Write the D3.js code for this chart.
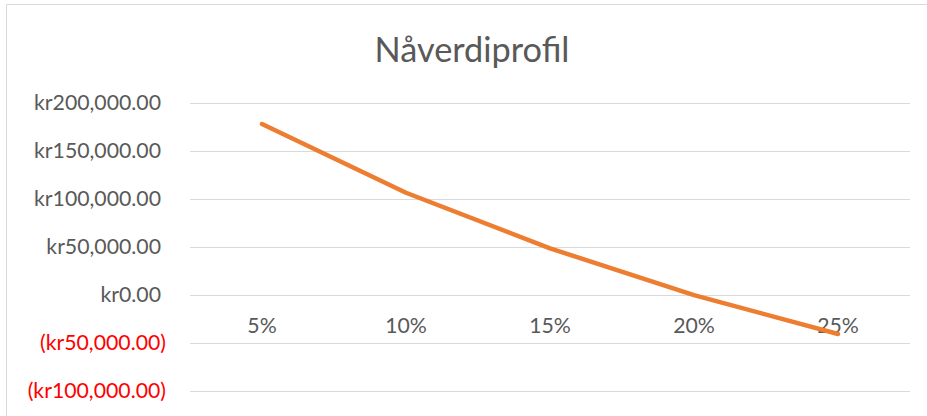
<!DOCTYPE html>
<html><head><meta charset="utf-8">
<script src="https://cdn.jsdelivr.net/npm/d3@7"></script>
<style>body{margin:0;background:#fff}svg{display:block}</style>
</head><body>
<svg id="c" width="927" height="416"></svg>
<script>
const categories = ["5%", "10%", "15%", "20%", "25%"];
const npvValues = [177800, 106200, 48300, -500, -40900];
const yTicks = [200000, 150000, 100000, 50000, 0, -50000, -100000];
const chartTitle = "Nåverdiprofil";

const svg = d3.select("#c");
const font = "Lato, 'Open Sans', sans-serif";
const grey = "#595959";

// chart border (left & top visible)
svg.append("path").attr("d","M6.5,416 V4.5 H927").attr("fill","none").attr("stroke","#d9d9d9").attr("stroke-width",1);

const x = d3.scaleBand().domain(categories).range([190, 910]);
const y = d3.scaleLinear().domain([-100000, 200000]).range([390.7, 102.7]);

const fmt = v => {
  const s = "kr" + d3.format(",.2f")(Math.abs(v));
  return v < 0 ? "(" + s + ")" : s;
};

// gridlines
svg.append("g").selectAll("line").data(yTicks).join("line")
  .attr("x1", 190).attr("x2", 910)
  .attr("y1", d => Math.round(y(d)) + 0.5).attr("y2", d => Math.round(y(d)) + 0.5)
  .attr("stroke", "#d9d9d9").attr("stroke-width", 1);

// y labels
const yl = svg.append("g").selectAll("text").data(yTicks).join("text")
  .attr("x", d => d < 0 ? 166 : 161)
  .attr("y", d => y(d))
  .attr("dy", "0.35em")
  .attr("text-anchor", "end")
  .attr("font-family", font)
  .attr("fill", d => d < 0 ? "#ff0000" : grey)
  .text(fmt);

// x labels
const xl = svg.append("g").selectAll("text").data(categories).join("text")
  .attr("x", d => x(d) + x.bandwidth() / 2)
  .attr("y", 333)
  .attr("text-anchor", "middle")
  .attr("font-family", font)
  .attr("fill", grey)
  .text(d => d);

// size fonts to match reference widths
function fit(sel, sample, target) {
  sel.attr("font-size", 16);
  const node = sel.filter(d => d === sample).node();
  const w = node.getComputedTextLength();
  sel.attr("font-size", 16 * target / w);
}
fit(yl, 200000, 127);
xl.attr("font-size", yl.attr("font-size"));

// line
const line = d3.line()
  .x((d, i) => x(categories[i]) + x.bandwidth() / 2)
  .y(d => y(d));
svg.append("path").datum(npvValues)
  .attr("d", line)
  .attr("fill", "none")
  .attr("stroke", "#ED7D31")
  .attr("stroke-width", 4.5)
  .attr("stroke-linecap", "round")
  .attr("stroke-linejoin", "round");

// title
const t = svg.append("text").attr("x", 472).attr("y", 62)
  .attr("text-anchor", "middle").attr("font-family", font)
  .attr("fill", grey).attr("font-size", 24).text(chartTitle);
const tw = t.node().getComputedTextLength();
t.attr("font-size", 24 * 195 / tw);
</script>
</body></html>
